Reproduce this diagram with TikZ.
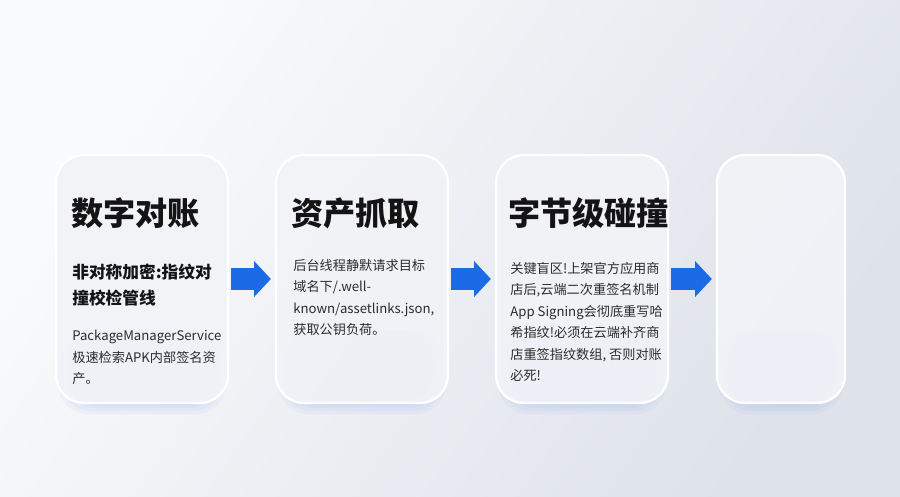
\documentclass[tikz,border=0pt]{standalone}
\usepackage{fontspec}
\setmainfont{Noto Sans CJK SC}
\usetikzlibrary{positioning,arrows.meta}

\definecolor{bglight}{HTML}{FAFBFC}
\definecolor{bgdark}{HTML}{DEE2EA}
\definecolor{cardfill}{HTML}{F1F3F7}
\definecolor{flowblue}{HTML}{1C6BE6}
\definecolor{glowblue}{HTML}{7FA5F2}
\definecolor{inkblack}{HTML}{141414}

\begin{document}
\begin{tikzpicture}[x=0.02cm,y=-0.02cm,
    card/.style={draw=white,line width=1.3pt,fill=cardfill,fill opacity=0.93,
      rounded corners=0.56cm,minimum height=4.96cm,inner sep=0pt},
    title/.style={anchor=west,inner sep=0pt,text=inkblack,
      font=\fontsize{18.3}{22}\selectfont\bfseries},
    sub/.style={anchor=north west,inner sep=0pt,align=left,text=inkblack,
      font=\fontsize{9.5}{14.7}\selectfont\bfseries},
    body/.style={anchor=north west,inner sep=0pt,align=left,text=inkblack!90,
      font=\fontsize{7.5}{12.2}\selectfont},
    flow/.style={flowblue,line width=12.5pt,-{Triangle[length=9.6pt,width=20pt]}}]
  % Background
  \useasboundingbox (0,0) rectangle (900,497);
  \shade[top color=bglight,bottom color=bgdark,shading angle=55] (0,0) rectangle (900,497);

  % Glow under the cards
  \foreach \cx/\w in {142/172,362/172,582/172,781/128}{
    \foreach \g in {0,3,6,9,12}{
      \fill[glowblue,opacity=0.07,rounded corners=0.6cm]
        (\cx-\w/2+14-\g,330) rectangle (\cx+\w/2-14+\g,402+\g);
    }
  }

  % Cards
  \node[card,minimum width=3.44cm] (c1) at (142,279) {};
  \node[card,minimum width=3.44cm] (c2) at (362,279) {};
  \node[card,minimum width=3.44cm] (c3) at (582,279) {};
  \node[card,minimum width=2.56cm] (c4) at (781,279) {};

  % Arrows
  \draw[flow] ([xshift=0.04cm]c1.east) -- ([xshift=-0.08cm]c2.west);
  \draw[flow] ([xshift=0.04cm]c2.east) -- ([xshift=-0.08cm]c3.west);
  \draw[flow] ([xshift=0.04cm]c3.east) -- ([xshift=-0.08cm]c4.west);

  % Card texts
  \node[title] (t1) at (71,213) {数字对账};
  \node[sub] (s1) at (72,264) {非对称加密:指纹对\\撞校检管线};
  \node[body] (b1) at (72,330) {PackageManagerService\\极速检索APK内部签名资\\产。};

  \node[title] (t2) at (291,213) {资产抓取};
  \node[body] (b2) at (293,259) {后台线程静默请求目标\\域名下/.well-\\known/assetlinks.json,\\获取公钥负荷。};

  \node[title] (t3) at (508,213) {字节级碰撞};
  \node[body] (b3) at (510,262) {关键盲区!上架官方应用商\\店后,云端二次重签名机制\\App Signing会彻底重写哈\\希指纹!必须在云端补齐商\\店重签指纹数组, 否则对账\\必死!};
\end{tikzpicture}
\end{document}
